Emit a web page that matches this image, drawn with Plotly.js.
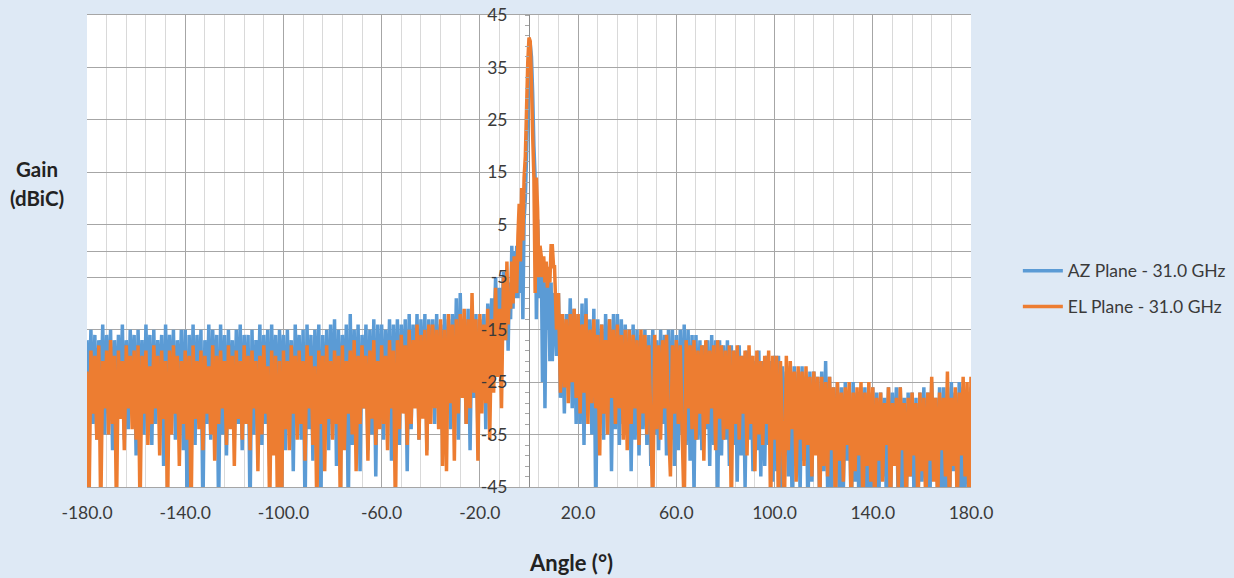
<!DOCTYPE html>
<html>
<head>
<meta charset="utf-8">
<script src="https://cdn.plot.ly/plotly-3.0.1.min.js"></script>
<style>html,body{margin:0;padding:0;background:#DEE9F5;}#chart{width:1234px;height:578px;}</style>
</head>
<body>
<div id="chart"></div>
<script>
var seriesNames = ['AZ Plane - 31.0 GHz', 'EL Plane - 31.0 GHz'];
var xTickVals = [-180,-140,-100,-60,-20,20,60,100,140,180];
var xTickText = ['-180.0','-140.0','-100.0','-60.0','-20.0','20.0','60.0','100.0','140.0','180.0'];
var yTickVals = [-45,-35,-25,-15,-5,5,15,25,35,45];
var yTickText = ['-45','-35','-25','-15','-5','5','15','25','35','45'];

// Gain (dBiC), sampled every 0.8 degree from -180 to -10.4 (one row = 20 degrees)
var azLeft = [
-17,-30,-15,-33,-16,-36,-17,-29,-14,-35,-16,-31,-15,-38,-17,-33,-16,-30,-14,-36,-17,-34,-15,-29,-16,
-39,-15,-32,-17,-35,-14,-30,-16,-37,-15,-33,-17,-29,-16,-41,-14,-34,-16,-31,-15,-36,-17,-33,-15,-38,
-15,-50,-16,-34,-14,-37,-16,-31,-15,-50,-17,-33,-14,-36,-15,-30,-16,-50,-14,-35,-16,-39,-15,-32,-17,
-36,-15,-33,-14,-38,-16,-31,-16,-50,-15,-35,-17,-30,-14,-37,-16,-33,-15,-41,-14,-34,-16,-36,-15,-31,
-16,-38,-15,-33,-17,-42,-14,-30,-16,-36,-15,-50,-14,-34,-16,-40,-15,-32,-14,-50,-16,-36,-15,-38,-14,
-33,-13,-41,-15,-36,-16,-31,-14,-50,-12,-37,-15,-33,-14,-42,-16,-30,-14,-38,-15,-35,-13,-43,-14,-32,
-14,-36,-15,-31,-13,-40,-14,-33,-13,-37,-14,-30,-13,-42,-12,-34,-14,-29,-12,-36,-13,-31,-12,-38,-13,
-30,-13,-33,-12,-28,-14,-35,-12,-31,-13,-34,-12,-29,-9,-36,-8,-27,-13,-33,-11,-38,-13,-28,-12,-35,
-13,-26,-12,-34,-10,-21,-9,-19,-5,-18,-7,-16,-4];
var elLeft = [
-23,-50,-19,-31,-20,-36,-18,-50,-21,-30,-19,-35,-17,-33,-20,-50,-19,-32,-21,-38,-18,-30,-20,-34,-19,
-36,-18,-50,-20,-31,-19,-37,-22,-33,-18,-30,-20,-39,-19,-32,-21,-50,-19,-35,-18,-31,-20,-41,-21,-33,
-19,-36,-20,-50,-18,-32,-21,-34,-19,-38,-20,-31,-22,-35,-18,-40,-20,-33,-19,-30,-21,-37,-18,-34,-20,
-41,-19,-32,-21,-36,-18,-33,-20,-38,-19,-30,-21,-42,-20,-35,-18,-31,-22,-50,-19,-39,-20,-50,-21,-50,
-19,-34,-21,-38,-18,-31,-20,-36,-19,-33,-21,-40,-18,-30,-20,-37,-22,-50,-19,-33,-20,-42,-18,-32,-21,
-36,-19,-33,-20,-50,-18,-38,-21,-31,-19,-35,-17,-42,-20,-33,-18,-30,-20,-40,-19,-32,-17,-37,-21,-34,
-18,-33,-20,-38,-17,-30,-19,-50,-17,-34,-16,-31,-18,-37,-15,-33,-17,-30,-14,-36,-16,-32,-15,-39,-14,
-33,-14,-30,-15,-34,-13,-41,-15,-42,-12,-29,-14,-40,-13,-31,-12,-28,-11,-33,-13,-30,-8,-27,-13,-40,
-12,-31,-14,-29,-11,-36,-13,-27,-7,-24,-11,-30,-5];

// Main lobe, sampled every 0.5 degree from -10 to 10
var azCore = [
-9,-17,-5,-19,-6,-13,1,-11,0,-9,1,-9,3,-8,4,-13,6,10,18,28,35,
39.5,37,30,20,14,-13,6,-3,-9,-1,-25,-3,-30,-6,-15,-5,-21,-6,-21,-8];
var elCore = [
-6,-17,-2,-14,-8,-11,-2,-10,-1,-6,-8,3,9,-2,12,2,14,18,27,36,40.7,
40,32,22,14,-8,14,8,-5,1,-1,-5,-1,-6,-2,-7,-3,-6,1,1,-3];

// Sampled every 0.8 degree from 10.4 to 180
var azRight = [
-10,-20,-8,-28,-13,-31,-12,-26,-9,-30,-11,-33,-12,
-33,-10,-37,-9,-30,-13,-35,-11,-50,-13,-33,-14,-36,-12,-31,-13,-42,-12,-34,-12,-37,-13,-33,-14,-35,
-15,-42,-14,-36,-15,-39,-16,-34,-15,-37,-16,-41,-15,-35,-17,-38,-15,-33,-16,-39,-15,-36,-15,-41,-16,
-38,-15,-35,-14,-37,-15,-40,-16,-46,-16,-36,-17,-38,-18,-34,-17,-41,-16,-37,-17,-50,-17,-39,-18,-36,
-17,-41,-18,-37,-19,-44,-18,-39,-20,-45,-19,-36,-20,-42,-21,-38,-19,-43,-21,-41,-20,-37,-21,-44,-20,
-42,-20,-45,-22,-39,-23,-43,-22,-50,-22,-41,-23,-46,-22,-40,-24,-50,-23,-44,-23,-38,-24,-50,-23,-42,
-21,-45,-24,-50,-26,-42,-25,-50,-26,-46,-25,-40,-27,-50,-25,-44,-27,-50,-26,-41,-26,-47,-27,-50,-26,
-45,-27,-50,-27,-43,-28,-50,-26,-47,-27,-41,-26,-50,-26,-45,-28,-50,-27,-43,-27,-47,-28,-50,-27,-44,
-26,-46,-27,-50,-25,-41,-28,-45,-26,-50,-26,-47,-26,-50,-25,-42,-27,-46,-25,-50,-26,-45,-27,-48,-26];
var elRight = [
-3,-15,-8,-27,-12,-26,-13,-29,-12,-25,-11,-28,-12,
-31,-14,-27,-12,-33,-15,-29,-13,-30,-16,-39,-14,-31,-17,-35,-13,-28,-15,-33,-14,-30,-16,-36,-15,-38,
-15,-33,-16,-30,-17,-37,-15,-31,-16,-35,-18,-32,-50,-16,-34,-18,-36,-17,-30,-16,-33,-43,-18,-31,-17,
-33,-18,-35,-50,-17,-30,-18,-34,-17,-36,-19,-31,-18,-40,-17,-33,-19,-30,-18,-38,-17,-32,-18,-36,-19,
-34,-18,-50,-19,-33,-18,-36,-20,-31,-19,-39,-18,-33,-20,-42,-19,-35,-21,-37,-20,-33,-19,-50,-20,-36,
-20,-50,-21,-35,-50,-20,-38,-21,-34,-23,-44,-22,-36,-23,-41,-22,-37,-24,-43,-23,-39,-24,-50,-24,-41,
-25,-43,-24,-38,-26,-50,-25,-40,-27,-44,-26,-37,-25,-50,-27,-42,-26,-39,-25,-50,-27,-41,-25,-44,-26,
-50,-28,-40,-27,-44,-29,-37,-26,-50,-29,-41,-28,-45,-26,-38,-29,-50,-28,-43,-27,-39,-29,-50,-27,-42,
-28,-50,-27,-40,-24,-44,-28,-50,-27,-38,-28,-43,-23,-50,-28,-41,-26,-50,-27,-39,-24,-43,-25,-50,-24];

function steps(start, step, n) { var o = []; for (var i = 0; i < n; i++) o.push(start + i * step); return o; }
var angles = steps(-180, 0.8, azLeft.length).concat(steps(-10, 0.5, azCore.length), steps(10.4, 0.8, azRight.length));
var az = azLeft.concat(azCore, azRight);
var el = elLeft.concat(elCore, elRight);

var tickFont = {family: 'Lato, sans-serif', size: 17.5, color: '#3a3a3a'};
var titleFont = {family: 'Lato, sans-serif', size: 20.5, color: '#222222', weight: 700};
var angleFont = {family: 'Lato, sans-serif', size: 22, color: '#222222', weight: 700};

Plotly.newPlot('chart', [
  {x: angles, y: az, name: seriesNames[0], mode: 'lines', legendgroup: 'a', line: {color: '#5B9BD5', width: 3.5, simplify: false}},
  {x: angles, y: el, name: seriesNames[1], mode: 'lines', legendgroup: 'b', line: {color: '#ED7D31', width: 3.5, simplify: false}}
], {
  width: 1234, height: 578,
  paper_bgcolor: '#DEE9F5', plot_bgcolor: '#FFFFFF',
  margin: {l: 87, r: 263, t: 15, b: 91, pad: 0, autoexpand: false},
  font: tickFont,
  xaxis: {
    range: [-180, 180], tickmode: 'array', tickvals: xTickVals, ticktext: xTickText,
    showgrid: true, gridcolor: '#A6A6A6', gridwidth: 1,
    minor: {dtick: 8, tick0: -180, showgrid: true, gridcolor: '#D9D9D9', gridwidth: 1, ticks: ''},
    showline: true, mirror: true, linecolor: '#A6A6A6', linewidth: 1,
    zeroline: true, zerolinecolor: '#8C8C8C', zerolinewidth: 1,
    ticks: '', ticklabelstandoff: 10, tickfont: tickFont
  },
  yaxis: {
    range: [-45, 45], tickmode: 'array', tickvals: yTickVals, ticktext: yTickText,
    anchor: 'free', position: 0.5,
    showgrid: true, gridcolor: '#A6A6A6', gridwidth: 1,
    minor: {dtick: 2, tick0: -45, showgrid: false, ticks: 'outside', ticklen: 4, tickcolor: '#A6A6A6', tickwidth: 1},
    showline: false, zeroline: true, zerolinecolor: '#A6A6A6', zerolinewidth: 1,
    ticks: 'outside', ticklen: 4, tickcolor: '#A6A6A6', ticklabelstandoff: 14, tickfont: tickFont
  },
  legend: {
    x: 1.053, xref: 'paper', y: 0.42, xanchor: 'left', yanchor: 'middle',
    bgcolor: 'rgba(0,0,0,0)', font: {family: 'Lato, sans-serif', size: 17.5, color: '#3a3a3a'},
    itemwidth: 40, tracegroupgap: 10, traceorder: 'grouped'
  },
  annotations: [
    {text: 'Gain', xref: 'paper', yref: 'paper', x: -0.0565, y: 0.674, xanchor: 'center', yanchor: 'middle', showarrow: false, font: titleFont},
    {text: '(dBiC)', xref: 'paper', yref: 'paper', x: -0.0565, y: 0.613, xanchor: 'center', yanchor: 'middle', showarrow: false, font: titleFont},
    {text: 'Angle (°)', xref: 'paper', yref: 'paper', x: 0.548, y: -0.161, xanchor: 'center', yanchor: 'middle', showarrow: false, font: angleFont}
  ]
}, {displayModeBar: false, staticPlot: true});
</script>
</body>
</html>
